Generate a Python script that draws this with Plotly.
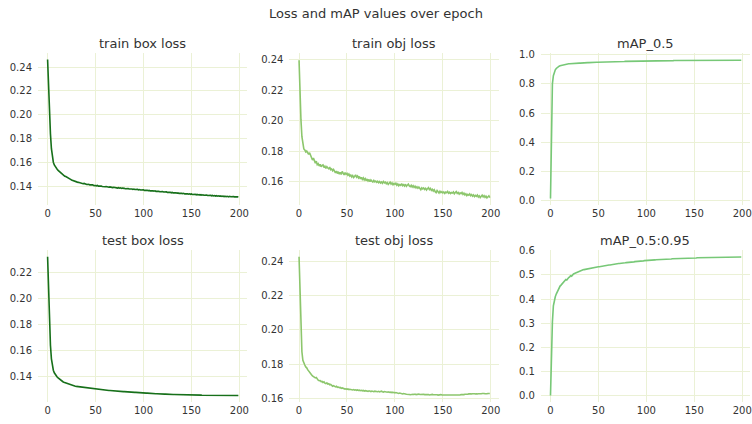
import plotly.graph_objects as go
from plotly.subplots import make_subplots

epochs = list(range(200))

train_box_loss = [
    0.2462, 0.2215, 0.2010, 0.1840, 0.1718, 0.1645, 0.1605, 0.1582, 0.1566, 0.1553,
    0.1546, 0.1537, 0.1529, 0.1520, 0.1513, 0.1505, 0.1499, 0.1496, 0.1488, 0.1485,
    0.1479, 0.1474, 0.1471, 0.1464, 0.1462, 0.1457, 0.1453, 0.1451, 0.1446, 0.1447,
    0.1441, 0.1439, 0.1437, 0.1434, 0.1435, 0.1429, 0.1431, 0.1426, 0.1428, 0.1423,
    0.1424, 0.1420, 0.1419, 0.1421, 0.1416, 0.1417, 0.1413, 0.1416, 0.1411, 0.1413,
    0.1410, 0.1408, 0.1411, 0.1406, 0.1408, 0.1404, 0.1407, 0.1403, 0.1401, 0.1404,
    0.1400, 0.1402, 0.1398, 0.1400, 0.1396, 0.1399, 0.1395, 0.1397, 0.1393, 0.1396,
    0.1394, 0.1390, 0.1393, 0.1389, 0.1392, 0.1388, 0.1391, 0.1386, 0.1389, 0.1385,
    0.1387, 0.1384, 0.1386, 0.1382, 0.1385, 0.1381, 0.1383, 0.1380, 0.1382, 0.1378,
    0.1381, 0.1377, 0.1379, 0.1376, 0.1378, 0.1374, 0.1377, 0.1373, 0.1375, 0.1372,
    0.1374, 0.1370, 0.1372, 0.1369, 0.1371, 0.1367, 0.1370, 0.1366, 0.1368, 0.1365,
    0.1367, 0.1363, 0.1366, 0.1362, 0.1364, 0.1360, 0.1363, 0.1359, 0.1361, 0.1357,
    0.1360, 0.1356, 0.1358, 0.1354, 0.1357, 0.1353, 0.1355, 0.1352, 0.1354, 0.1350,
    0.1353, 0.1349, 0.1351, 0.1347, 0.1350, 0.1346, 0.1349, 0.1345, 0.1347, 0.1344,
    0.1346, 0.1342, 0.1345, 0.1341, 0.1343, 0.1340, 0.1342, 0.1338, 0.1341, 0.1337,
    0.1340, 0.1336, 0.1338, 0.1335, 0.1337, 0.1333, 0.1336, 0.1332, 0.1335, 0.1331,
    0.1334, 0.1330, 0.1333, 0.1329, 0.1331, 0.1328, 0.1330, 0.1327, 0.1329, 0.1326,
    0.1329, 0.1325, 0.1328, 0.1324, 0.1327, 0.1323, 0.1326, 0.1322, 0.1325, 0.1321,
    0.1324, 0.1320, 0.1323, 0.1319, 0.1322, 0.1318, 0.1321, 0.1317, 0.1320, 0.1316,
    0.1320, 0.1317, 0.1319, 0.1315, 0.1318, 0.1316, 0.1318, 0.1314, 0.1317, 0.1315,
]

train_obj_loss = [
    0.2395, 0.2135, 0.2005, 0.1895, 0.1840, 0.1815, 0.1808, 0.1795, 0.1801, 0.1786,
    0.1779, 0.1790, 0.1770, 0.1762, 0.1742, 0.1755, 0.1731, 0.1722, 0.1735, 0.1712,
    0.1718, 0.1703, 0.1714, 0.1698, 0.1707, 0.1710, 0.1694, 0.1702, 0.1688, 0.1699,
    0.1690, 0.1685, 0.1696, 0.1679, 0.1684, 0.1672, 0.1680, 0.1662, 0.1658, 0.1670,
    0.1654, 0.1666, 0.1650, 0.1661, 0.1648, 0.1668, 0.1652, 0.1645, 0.1660, 0.1649,
    0.1655, 0.1642, 0.1650, 0.1637, 0.1644, 0.1632, 0.1641, 0.1628, 0.1636, 0.1645,
    0.1630, 0.1638, 0.1625, 0.1634, 0.1619, 0.1629, 0.1616, 0.1625, 0.1612, 0.1621,
    0.1608, 0.1618, 0.1606, 0.1615, 0.1601, 0.1612, 0.1604, 0.1598, 0.1609, 0.1600,
    0.1605, 0.1597, 0.1603, 0.1594, 0.1601, 0.1592, 0.1599, 0.1590, 0.1602, 0.1593,
    0.1598, 0.1587, 0.1594, 0.1583, 0.1591, 0.1598, 0.1585, 0.1592, 0.1580, 0.1589,
    0.1583, 0.1591, 0.1578, 0.1586, 0.1574, 0.1582, 0.1577, 0.1588, 0.1575, 0.1581,
    0.1572, 0.1584, 0.1570, 0.1579, 0.1585, 0.1573, 0.1568, 0.1577, 0.1566, 0.1574,
    0.1563, 0.1571, 0.1560, 0.1567, 0.1558, 0.1565, 0.1556, 0.1548, 0.1560, 0.1553,
    0.1559, 0.1550, 0.1557, 0.1546, 0.1555, 0.1562, 0.1549, 0.1556, 0.1544, 0.1551,
    0.1540, 0.1548, 0.1535, 0.1529, 0.1543, 0.1531, 0.1526, 0.1538, 0.1529, 0.1535,
    0.1527, 0.1533, 0.1524, 0.1532, 0.1528, 0.1536, 0.1525, 0.1531, 0.1523, 0.1530,
    0.1526, 0.1533, 0.1521, 0.1529, 0.1536, 0.1524, 0.1530, 0.1519, 0.1527, 0.1522,
    0.1530, 0.1518, 0.1525, 0.1514, 0.1521, 0.1510, 0.1517, 0.1512, 0.1520, 0.1509,
    0.1516, 0.1506, 0.1514, 0.1503, 0.1511, 0.1505, 0.1513, 0.1500, 0.1508, 0.1497,
    0.1505, 0.1512, 0.1501, 0.1509, 0.1498, 0.1506, 0.1494, 0.1503, 0.1508, 0.1496,
]

map_05 = [
    0.016, 0.560, 0.800, 0.856, 0.882, 0.896, 0.905, 0.912, 0.917, 0.921,
    0.924, 0.926, 0.928, 0.930, 0.932, 0.933, 0.934, 0.935, 0.936, 0.937,
    0.937, 0.938, 0.938, 0.939, 0.939, 0.940, 0.940, 0.941, 0.941, 0.942,
    0.942, 0.942, 0.943, 0.943, 0.943, 0.944, 0.944, 0.944, 0.945, 0.945,
    0.945, 0.946, 0.946, 0.946, 0.947, 0.947, 0.947, 0.947, 0.948, 0.948,
    0.948, 0.948, 0.949, 0.949, 0.949, 0.949, 0.950, 0.950, 0.950, 0.950,
    0.950, 0.951, 0.951, 0.951, 0.951, 0.951, 0.952, 0.952, 0.952, 0.952,
    0.952, 0.952, 0.953, 0.953, 0.953, 0.953, 0.953, 0.953, 0.954, 0.954,
    0.954, 0.954, 0.954, 0.954, 0.954, 0.955, 0.955, 0.955, 0.955, 0.955,
    0.955, 0.955, 0.956, 0.956, 0.956, 0.956, 0.956, 0.956, 0.956, 0.957,
    0.957, 0.957, 0.957, 0.957, 0.957, 0.957, 0.957, 0.958, 0.958, 0.958,
    0.958, 0.958, 0.958, 0.958, 0.958, 0.958, 0.958, 0.959, 0.959, 0.959,
    0.959, 0.959, 0.959, 0.959, 0.959, 0.959, 0.959, 0.959, 0.959, 0.960,
    0.960, 0.960, 0.960, 0.960, 0.960, 0.960, 0.960, 0.960, 0.960, 0.960,
    0.960, 0.960, 0.960, 0.960, 0.960, 0.960, 0.960, 0.960, 0.960, 0.960,
    0.960, 0.960, 0.960, 0.960, 0.960, 0.960, 0.961, 0.961, 0.961, 0.961,
    0.961, 0.961, 0.961, 0.961, 0.961, 0.961, 0.961, 0.961, 0.961, 0.961,
    0.961, 0.961, 0.961, 0.961, 0.961, 0.961, 0.961, 0.961, 0.961, 0.961,
    0.961, 0.961, 0.961, 0.961, 0.961, 0.961, 0.961, 0.961, 0.961, 0.961,
    0.961, 0.961, 0.961, 0.961, 0.961, 0.961, 0.961, 0.961, 0.961, 0.961,
]

test_box_loss = [
    0.2321, 0.2050, 0.1790, 0.1638, 0.1535, 0.1480, 0.1448, 0.1428, 0.1414, 0.1405,
    0.1396, 0.1388, 0.1381, 0.1375, 0.1369, 0.1364, 0.1359, 0.1355, 0.1352, 0.1349,
    0.1346, 0.1343, 0.1341, 0.1338, 0.1336, 0.1334, 0.1331, 0.1328, 0.1326, 0.1325,
    0.1323, 0.1322, 0.1320, 0.1319, 0.1318, 0.1316, 0.1315, 0.1314, 0.1313, 0.1312,
    0.1311, 0.1310, 0.1309, 0.1308, 0.1307, 0.1306, 0.1305, 0.1305, 0.1304, 0.1303,
    0.1302, 0.1301, 0.1301, 0.1300, 0.1299, 0.1298, 0.1298, 0.1297, 0.1296, 0.1296,
    0.1295, 0.1294, 0.1294, 0.1293, 0.1292, 0.1292, 0.1291, 0.1291, 0.1290, 0.1289,
    0.1289, 0.1288, 0.1287, 0.1287, 0.1286, 0.1285, 0.1285, 0.1284, 0.1284, 0.1283,
    0.1283, 0.1282, 0.1282, 0.1281, 0.1281, 0.1280, 0.1280, 0.1279, 0.1279, 0.1278,
    0.1278, 0.1277, 0.1277, 0.1276, 0.1276, 0.1275, 0.1275, 0.1274, 0.1274, 0.1273,
    0.1272, 0.1272, 0.1271, 0.1271, 0.1271, 0.1270, 0.1270, 0.1269, 0.1269, 0.1269,
    0.1268, 0.1268, 0.1267, 0.1267, 0.1267, 0.1266, 0.1266, 0.1266, 0.1265, 0.1265,
    0.1265, 0.1264, 0.1264, 0.1264, 0.1263, 0.1263, 0.1263, 0.1262, 0.1262, 0.1262,
    0.1262, 0.1261, 0.1261, 0.1261, 0.1260, 0.1260, 0.1260, 0.1260, 0.1259, 0.1259,
    0.1259, 0.1259, 0.1259, 0.1258, 0.1258, 0.1258, 0.1258, 0.1258, 0.1257, 0.1257,
    0.1257, 0.1257, 0.1257, 0.1257, 0.1256, 0.1256, 0.1256, 0.1256, 0.1256, 0.1256,
    0.1256, 0.1255, 0.1255, 0.1255, 0.1255, 0.1255, 0.1255, 0.1255, 0.1255, 0.1254,
    0.1254, 0.1254, 0.1254, 0.1254, 0.1254, 0.1254, 0.1254, 0.1254, 0.1254, 0.1254,
    0.1254, 0.1253, 0.1253, 0.1253, 0.1253, 0.1253, 0.1253, 0.1253, 0.1253, 0.1253,
    0.1253, 0.1253, 0.1253, 0.1253, 0.1253, 0.1253, 0.1253, 0.1253, 0.1253, 0.1253,
]

test_obj_loss = [
    0.2425, 0.2221, 0.1988, 0.1872, 0.1823, 0.1804, 0.1795, 0.1784, 0.1779, 0.1768,
    0.1759, 0.1752, 0.1748, 0.1738, 0.1732, 0.1727, 0.1722, 0.1720, 0.1722, 0.1712,
    0.1707, 0.1704, 0.1705, 0.1699, 0.1700, 0.1694, 0.1697, 0.1690, 0.1687, 0.1691,
    0.1684, 0.1686, 0.1680, 0.1682, 0.1676, 0.1672, 0.1675, 0.1670, 0.1668, 0.1671,
    0.1665, 0.1667, 0.1663, 0.1665, 0.1660, 0.1662, 0.1658, 0.1659, 0.1655, 0.1657,
    0.1654, 0.1656, 0.1652, 0.1654, 0.1651, 0.1653, 0.1650, 0.1652, 0.1649, 0.1651,
    0.1648, 0.1650, 0.1647, 0.1649, 0.1646, 0.1648, 0.1645, 0.1647, 0.1644, 0.1646,
    0.1644, 0.1645, 0.1642, 0.1645, 0.1643, 0.1641, 0.1644, 0.1642, 0.1640, 0.1643,
    0.1641, 0.1643, 0.1640, 0.1642, 0.1639, 0.1641, 0.1643, 0.1640, 0.1638, 0.1641,
    0.1639, 0.1641, 0.1637, 0.1639, 0.1636, 0.1638, 0.1635, 0.1637, 0.1634, 0.1636,
    0.1633, 0.1635, 0.1632, 0.1633, 0.1630, 0.1632, 0.1629, 0.1630, 0.1627, 0.1629,
    0.1626, 0.1627, 0.1625, 0.1626, 0.1623, 0.1624, 0.1622, 0.1624, 0.1623, 0.1625,
    0.1624, 0.1626, 0.1623, 0.1625, 0.1624, 0.1626, 0.1624, 0.1625, 0.1623, 0.1625,
    0.1625, 0.1623, 0.1624, 0.1622, 0.1624, 0.1623, 0.1621, 0.1623, 0.1622, 0.1624,
    0.1622, 0.1623, 0.1621, 0.1623, 0.1622, 0.1620, 0.1622, 0.1621, 0.1623, 0.1621,
    0.1621, 0.1622, 0.1620, 0.1621, 0.1619, 0.1621, 0.1620, 0.1619, 0.1620, 0.1618,
    0.1619, 0.1618, 0.1620, 0.1619, 0.1620, 0.1621, 0.1620, 0.1622, 0.1621, 0.1623,
    0.1622, 0.1624, 0.1623, 0.1625, 0.1624, 0.1627, 0.1625, 0.1627, 0.1626, 0.1628,
    0.1627, 0.1628, 0.1626, 0.1628, 0.1627, 0.1629, 0.1627, 0.1628, 0.1627, 0.1629,
    0.1628, 0.1629, 0.1627, 0.1629, 0.1628, 0.1630, 0.1628, 0.1629, 0.1627, 0.1629,
]

map_05_095 = [
    0.002, 0.182, 0.306, 0.372, 0.396, 0.410, 0.421, 0.430, 0.438, 0.446,
    0.454, 0.458, 0.463, 0.470, 0.474, 0.477, 0.481, 0.479, 0.486, 0.489,
    0.492, 0.497, 0.495, 0.501, 0.504, 0.506, 0.508, 0.510, 0.512, 0.514,
    0.516, 0.517, 0.518, 0.520, 0.521, 0.522, 0.523, 0.524, 0.525, 0.526,
    0.527, 0.527, 0.528, 0.529, 0.530, 0.530, 0.531, 0.532, 0.532, 0.533,
    0.534, 0.534, 0.535, 0.536, 0.536, 0.537, 0.537, 0.538, 0.539, 0.539,
    0.540, 0.541, 0.541, 0.542, 0.543, 0.543, 0.544, 0.544, 0.545, 0.545,
    0.546, 0.547, 0.547, 0.548, 0.548, 0.549, 0.549, 0.550, 0.550, 0.551,
    0.551, 0.552, 0.552, 0.552, 0.553, 0.553, 0.554, 0.554, 0.555, 0.555,
    0.555, 0.556, 0.556, 0.557, 0.557, 0.557, 0.558, 0.558, 0.559, 0.559,
    0.559, 0.560, 0.560, 0.560, 0.561, 0.561, 0.561, 0.562, 0.562, 0.562,
    0.563, 0.563, 0.563, 0.563, 0.564, 0.564, 0.564, 0.564, 0.565, 0.565,
    0.565, 0.565, 0.566, 0.566, 0.566, 0.566, 0.566, 0.567, 0.567, 0.567,
    0.567, 0.567, 0.568, 0.568, 0.568, 0.568, 0.568, 0.568, 0.569, 0.569,
    0.569, 0.569, 0.569, 0.569, 0.569, 0.570, 0.570, 0.570, 0.570, 0.570,
    0.570, 0.570, 0.570, 0.571, 0.571, 0.571, 0.571, 0.571, 0.571, 0.571,
    0.571, 0.571, 0.572, 0.572, 0.572, 0.572, 0.572, 0.572, 0.572, 0.572,
    0.572, 0.572, 0.572, 0.572, 0.573, 0.573, 0.573, 0.573, 0.573, 0.573,
    0.573, 0.573, 0.573, 0.573, 0.573, 0.573, 0.573, 0.573, 0.573, 0.574,
    0.574, 0.574, 0.574, 0.574, 0.574, 0.574, 0.574, 0.574, 0.574, 0.574,
]

subplot_titles = ["train box loss", "train obj loss", "mAP_0.5",
                  "test box loss", "test obj loss", "mAP_0.5:0.95"]
main_title = "Loss and mAP values over epoch"
x_ticks = [0, 50, 100, 150, 200]

# (values, row, col, colour, y range, y dtick, tick format)
series = [
    (train_box_loss, 1, 1, "#17701a", [0.1248, 0.2517], 0.02, ".2f"),
    (train_obj_loss, 1, 2, "#8cc66c", [0.1448, 0.2443], 0.02, ".2f"),
    (map_05, 1, 3, "#77c877", [-0.029, 1.011], 0.2, ".1f"),
    (test_box_loss, 2, 1, "#17701a", [0.1203, 0.2373], 0.02, ".2f"),
    (test_obj_loss, 2, 2, "#8cc66c", [0.1580, 0.2464], 0.02, ".2f"),
    (map_05_095, 2, 3, "#77c877", [-0.0248, 0.6029], 0.1, ".1f"),
]

FONT = "DejaVu Sans"
GRID = "#ebf1d6"
TXT = "#333333"

W, H = 752, 424

fig = make_subplots(rows=2, cols=3, subplot_titles=subplot_titles,
                    horizontal_spacing=0.0595, vertical_spacing=0.129)

for vals, r, c, color, yr, dt, fmt in series:
    fig.add_trace(go.Scatter(x=epochs, y=vals, mode="lines",
                             line=dict(color=color, width=1.6),
                             showlegend=False), row=r, col=c)
    fig.update_yaxes(range=yr, dtick=dt, tickformat=fmt, row=r, col=c)

fig.update_xaxes(range=[-10, 208.1], tickvals=x_ticks, showgrid=True,
                 gridcolor=GRID, gridwidth=1, zeroline=False, showline=False,
                 ticks="", ticklabelstandoff=1,
                 tickfont=dict(family=FONT, size=10, color=TXT))
fig.update_yaxes(showgrid=True, gridcolor=GRID, gridwidth=1, zeroline=False,
                 showline=False, ticks="", ticklabelstandoff=5,
                 tickfont=dict(family=FONT, size=10, color=TXT))

for ann in fig.layout.annotations:
    ann.font = dict(family=FONT, size=13, color=TXT)

fig.update_layout(
    width=W, height=H,
    margin=dict(l=38, r=0, t=53, b=22),
    paper_bgcolor="white", plot_bgcolor="white",
    title=dict(text=main_title, x=0.5, xanchor="center", y=1 - 13.5 / H,
               yanchor="middle", font=dict(family=FONT, size=13, color=TXT)),
    font=dict(family=FONT, color=TXT),
)

# remove the default 8px page margin so the figure fills the window
fig.write_html("out.html",
               config={"displayModeBar": False},
               post_script="document.body.style.margin='0px';"
                           "document.body.style.overflow='hidden';")
